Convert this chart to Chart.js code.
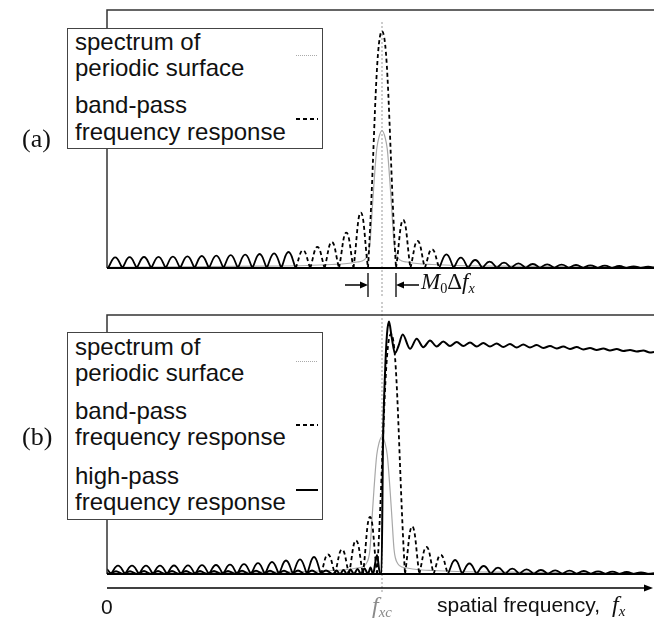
<!DOCTYPE html>
<html>
<head>
<meta charset="utf-8">
<script src="https://cdn.jsdelivr.net/npm/chart.js@4.4.1/dist/chart.umd.min.js"></script>
<style>
  body { margin: 0; background: #fff; }
  #page { position: relative; width: 654px; height: 623px; overflow: hidden; font-family: "Liberation Sans", Arial, sans-serif; color: #111; }
  canvas { position: absolute; left: 0; }
  .box { position: absolute; left: 67px; width: 256px; background: #fff; border: 1.5px solid #444; box-sizing: border-box; }
  .t { position: absolute; font-size: 24px; line-height: 1; white-space: nowrap; }
  .serif { font-family: "Liberation Serif", "Times New Roman", serif; }
  .sample { position: absolute; left: 296px; width: 22px; height: 2px; }
  .grey { background: repeating-linear-gradient(to right, #aaa 0 1px, transparent 1px 2px); height: 1px; }
  .dash { background: repeating-linear-gradient(to right, #000 0 4px, transparent 4px 7px); }
  .solid { background: #000; }
  sub { font-size: 0.62em; vertical-align: -0.25em; }
</style>
</head>
<body>
<div id="page">
  <canvas id="chartA" width="654" height="300" style="top:0"></canvas>
  <canvas id="chartB" width="654" height="323" style="top:300px"></canvas>

  <div class="t serif" style="left:22px; top:126px; font-size:26px">(a)</div>
  <div class="t serif" style="left:22px; top:424px; font-size:26px">(b)</div>

  <div class="box" style="top:27.5px; height:121.5px"></div>
  <div class="t" style="left:75px; top:29.7px">spectrum of</div>
  <div class="t" style="left:75px; top:55.7px">periodic surface</div>
  <div class="t" style="left:75px; top:92.7px">band-pass</div>
  <div class="t" style="left:75px; top:119.7px">frequency response</div>
  <div class="sample grey" style="top:55px"></div>
  <div class="sample dash" style="top:117.5px"></div>

  <div class="box" style="top:332px; height:187.5px"></div>
  <div class="t" style="left:75px; top:334.7px">spectrum of</div>
  <div class="t" style="left:75px; top:360.7px">periodic surface</div>
  <div class="t" style="left:75px; top:399px">band-pass</div>
  <div class="t" style="left:75px; top:425.4px">frequency response</div>
  <div class="t" style="left:75px; top:464px">high-pass</div>
  <div class="t" style="left:75px; top:489.7px">frequency response</div>
  <div class="sample grey" style="top:360.5px"></div>
  <div class="sample dash" style="top:424px"></div>
  <div class="sample solid" style="top:489px"></div>

  <div class="t serif" style="left:421px; top:270px; font-size:23px"><i>M</i><sub>0</sub>&Delta;<i>f</i><sub><i>x</i></sub></div>
  <div class="t" style="left:101px; top:596px; font-size:21px">0</div>
  <div class="t serif" style="left:372px; top:593px; font-size:24px; color:#8a8a8a"><i>f</i><sub><i>xc</i></sub></div>
  <div class="t" style="left:437px; top:594px; font-size:21px">spatial frequency,</div>
  <div class="t serif" style="left:612px; top:592px; font-size:24px"><i>f</i><sub><i>x</i></sub></div>
</div>

<script>
// frequency axis in arbitrary units (0 .. 547 across the frame), response heights in arbitrary units
var fxc = 275;
var mainLobeA = [261, 289];

// spectrum of periodic surface (same curve in both panels)
var spectrumX = [0, 75, 150, 200, 225, 240, 250, 255, 259, 261.6, 263, 265, 267, 269.7, 272, 275,
                 278, 280.3, 283, 285, 287, 288.4, 291, 295, 300, 310, 325, 350, 400, 475, 547];
var spectrumY = [0.6, 1.2, 1.8, 2.5, 3.5, 4.5, 6, 7, 10, 16, 25, 55, 85, 118.7, 131, 137.5,
                 131, 118.7, 85, 55, 25, 16, 10, 7, 6, 4.5, 3.5, 2.5, 1.8, 1.2, 0.6];

// band-pass response (a): lobe zeros and lobe tops, left to right
var bandAX = [1, 8.2, 15.4, 22.6, 29.8, 37, 44.2, 51.5, 58.7, 65.9, 73.1, 80.4, 87.6, 94.8, 102, 109.3,
              116.5, 123.7, 130.9, 138.2, 145.4, 152.6, 159.8, 167.1, 174.3, 181.5, 188.7, 196, 203.2,
              210.4, 217.6, 224.8, 232, 239.3, 246.5, 253.8, 261, 275, 289, 296.2, 303.4, 310.6, 317.8,
              325, 332.2, 339.4, 346.6, 353.8, 361, 368.2, 375.4, 382.6, 389.8, 397, 404.2, 411.4, 418.6,
              425.8, 433, 440.2, 447.4, 454.6, 461.8, 469, 476.2, 483.4, 490.6, 497.8, 505, 512.2, 519.4,
              526.6, 533.8, 541, 547];
var bandAY = [0, 10.6, 0, 10.8, 0, 11, 0, 11.2, 0, 11.4, 0, 11.7, 0, 12, 0, 12.3,
              0, 12.8, 0, 13.3, 0, 14, 0, 14.7, 0, 16, 0, 17.7, 0,
              21, 0, 26, 0, 35.3, 0, 55.3, 0, 236.8, 0, 48, 0, 27, 0,
              18.7, 0, 13.7, 0, 10.3, 0, 8, 0, 6.3, 0, 5.3, 0, 4.7, 0,
              4, 0, 3.7, 0, 3.3, 0, 3, 0, 2.7, 0, 2.3, 0, 2, 0,
              1.7, 0, 1.3, 0.5];

// band-pass response (b)
var bandBX = [0, 4, 11, 18, 25, 32, 39, 46, 53, 60, 67, 74, 81, 88, 95, 102, 109, 116, 123, 130, 137,
              144, 151, 158, 165, 172, 179, 186, 193, 200, 207, 214, 221, 228, 235, 242, 249, 256, 263,
              270, 284, 298, 305.2, 312.3, 319.5, 326.6, 333.8, 340.9, 348.1, 355.2, 362.4, 369.5, 376.7,
              383.8, 391, 398.1, 405.3, 412.4, 419.6, 426.7, 433.9, 441, 448.2, 455.3, 462.5, 469.6, 476.8,
              483.9, 491.1, 498.2, 505.4, 512.5, 519.7, 526.8, 534, 541.1, 547];
var bandBY = [5, 0, 8.3, 0, 8.3, 0, 8.3, 0, 8.4, 0, 8.5, 0, 8.6, 0, 8.8, 0, 9, 0, 9.3, 0, 9.8,
              0, 10.8, 0, 12, 0, 13.5, 0, 14.7, 0, 17, 0, 19.5, 0, 24.5, 0, 33.5, 0, 57,
              0, 240, 0, 47.5, 0, 27, 0, 19, 0, 14, 0, 10.5, 0, 8,
              0, 6.3, 0, 5.3, 0, 4.7, 0, 4, 0, 3.7, 0, 3.3, 0, 3,
              0, 2.7, 0, 2.3, 0, 2, 0, 1.7, 0, 0.8];

// high-pass response (b)
var highX = [0, 2, 9, 16, 23, 30, 37, 44, 51, 58, 65, 72, 79, 86, 93, 100, 107, 114, 121, 128, 135,
             142, 149, 156, 163, 170, 177, 184, 191, 198, 205, 212, 219, 226, 229.5, 233, 236.5, 240,
             243.5, 247, 250.5, 254, 257.5, 261, 263.5, 266, 270, 273, 274.5, 276, 278, 280, 282, 284.5,
             288, 291.5, 295.7, 303, 309.7, 316.3, 323, 329.7, 336.3, 343, 349.7, 356.3, 363, 369.7,
             376.3, 383, 389.7, 396.3, 403, 409.7, 416.3, 423, 429.7, 436.3, 443, 449.7, 456.3, 463,
             469.7, 476.3, 483, 489.7, 496.3, 503, 509.7, 516.3, 523, 529.7, 536.3, 543, 547];
var highY = [1.5, 0, 2.8, 0, 2.8, 0, 2.9, 0, 2.9, 0, 3, 0, 3, 0, 3, 0, 3.1, 0, 3.1, 0, 3.2,
             0, 3.2, 0, 3.3, 0, 3.3, 0, 3.4, 0, 3.4, 0, 3.5, 0, 3.5, 0, 4, 0,
             4.5, 0, 5, 0, 5.5, 0, 6.5, 0, 19, 0, 0, 130, 200, 240, 252.5, 238,
             220.8, 228, 239.5, 225.2, 235.2, 226.8, 233.5, 227.5, 232.5, 228, 232, 228, 231.5, 227.5,
             231, 227.5, 230.5, 227, 230, 226.5, 229.5, 226.5, 229, 226, 228, 225.5, 227.5, 225,
             227, 224.5, 226, 224, 225.5, 223.5, 225, 223, 224, 222.5, 223.5, 221.5, 222];

function toPoints(xs, ys) {
    var pts = [];
    for (var i = 0; i < xs.length; i++) {
        pts.push({x: xs[i], y: ys[i]});
    }
    return pts;
}

// lobes of |sinc|: a zero is given twice so the spline meets the axis in a cusp
function toLobes(xs, ys) {
    var pts = [];
    for (var i = 0; i < xs.length; i++) {
        pts.push({x: xs[i], y: ys[i]});
        if (ys[i] === 0) pts.push({x: xs[i], y: 0});
    }
    return pts;
}

// steep parts of the band-pass curve come out dashed, the low lobes look solid
var steepDash = function (ctx) {
    return Math.abs(ctx.p1.y - ctx.p0.y) > 17 ? [4, 3] : undefined;
};

var framePlugin = {
    id: 'frame',
    beforeDatasetsDraw: function (chart, args, opts) {
        var ctx = chart.ctx, a = chart.chartArea;
        var cx = chart.scales.x.getPixelForValue(fxc);
        ctx.save();
        ctx.strokeStyle = '#9a9a9a';
        ctx.lineWidth = 1;
        ctx.setLineDash([2, 2]);
        ctx.beginPath();
        ctx.moveTo(cx, a.top + opts.lineTop);
        ctx.lineTo(cx, a.bottom + opts.lineBottom);
        ctx.stroke();
        ctx.restore();
    },
    afterDatasetsDraw: function (chart, args, opts) {
        var ctx = chart.ctx, a = chart.chartArea, x = chart.scales.x;
        ctx.save();
        ctx.strokeStyle = '#333';
        ctx.lineWidth = 1.5;
        ctx.beginPath();
        ctx.moveTo(a.right, a.top);
        ctx.lineTo(a.left, a.top);
        ctx.lineTo(a.left, a.bottom);
        ctx.stroke();
        ctx.strokeStyle = '#000';
        ctx.lineWidth = 2;
        ctx.beginPath();
        ctx.moveTo(a.left, a.bottom);
        ctx.lineTo(a.right, a.bottom);
        ctx.stroke();

        ctx.fillStyle = '#000';
        if (opts.marks) {
            var y = a.bottom + 17;
            var x0 = x.getPixelForValue(opts.marks[0]);
            var x1 = x.getPixelForValue(opts.marks[1]);
            ctx.lineWidth = 1.3;
            ctx.beginPath();
            ctx.moveTo(x0, y - 12); ctx.lineTo(x0, y + 12);
            ctx.moveTo(x1, y - 12); ctx.lineTo(x1, y + 12);
            ctx.moveTo(x0 - 23, y); ctx.lineTo(x0 - 6, y);
            ctx.moveTo(x1 + 23, y); ctx.lineTo(x1 + 6, y);
            ctx.stroke();
            ctx.beginPath();
            ctx.moveTo(x0, y); ctx.lineTo(x0 - 8, y - 3.5); ctx.lineTo(x0 - 8, y + 3.5); ctx.closePath();
            ctx.moveTo(x1, y); ctx.lineTo(x1 + 8, y - 3.5); ctx.lineTo(x1 + 8, y + 3.5); ctx.closePath();
            ctx.fill();
        }
        if (opts.axisArrow) {
            var ya = a.bottom + 14;
            ctx.lineWidth = 1.5;
            ctx.beginPath();
            ctx.moveTo(a.left, ya);
            ctx.lineTo(a.right - 6, ya);
            ctx.stroke();
            ctx.beginPath();
            ctx.moveTo(a.right - 1, ya);
            ctx.lineTo(a.right - 10, ya - 3.5);
            ctx.lineTo(a.right - 10, ya + 3.5);
            ctx.closePath();
            ctx.fill();
        }
        ctx.restore();
    }
};

function makeOptions(padding, ymax, frameOpts) {
    return {
        responsive: false,
        animation: false,
        devicePixelRatio: 1,
        layout: { padding: padding },
        scales: {
            x: { type: 'linear', min: 0, max: 547, display: false },
            y: { type: 'linear', min: 0, max: ymax, display: false }
        },
        plugins: { legend: { display: false }, tooltip: { enabled: false }, frame: frameOpts },
        elements: { point: { radius: 0 } }
    };
}

var spectrumSet = function () {
    return {
        label: 'spectrum of periodic surface',
        data: toPoints(spectrumX, spectrumY),
        borderColor: '#a8a8a8',
        borderWidth: 1.2,
        cubicInterpolationMode: 'monotone',
        showLine: true,
        order: 3
    };
};

new Chart(document.getElementById('chartA'), {
    type: 'scatter',
    data: {
        datasets: [
            spectrumSet(),
            {
                label: 'band-pass frequency response',
                data: toLobes(bandAX, bandAY),
                borderColor: '#000',
                borderWidth: 1.8,
                tension: 0.45,
                showLine: true,
                segment: { borderDash: steepDash },
                order: 2
            }
        ]
    },
    options: makeOptions({ left: 107, top: 10, right: 0, bottom: 32 }, 258,
        { lineTop: 12, lineBottom: 29, marks: mainLobeA }),
    plugins: [framePlugin]
});

new Chart(document.getElementById('chartB'), {
    type: 'scatter',
    data: {
        datasets: [
            spectrumSet(),
            {
                label: 'band-pass frequency response',
                data: toLobes(bandBX, bandBY),
                borderColor: '#000',
                borderWidth: 1.8,
                tension: 0.45,
                showLine: true,
                segment: { borderDash: steepDash },
                order: 2
            },
            {
                label: 'high-pass frequency response',
                data: toPoints(highX, highY),
                borderColor: '#000',
                borderWidth: 2,
                cubicInterpolationMode: 'monotone',
                showLine: true,
                order: 1
            }
        ]
    },
    options: makeOptions({ left: 107, top: 15, right: 0, bottom: 49 }, 259,
        { lineTop: -13, lineBottom: 18, axisArrow: true }),
    plugins: [framePlugin]
});
</script>
</body>
</html>
